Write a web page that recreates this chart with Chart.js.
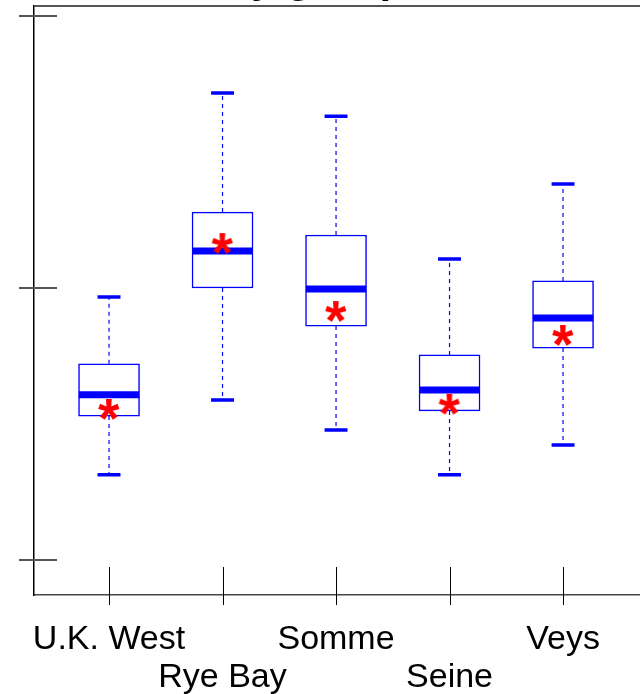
<!DOCTYPE html>
<html>
<head>
<meta charset="utf-8">
<script src="https://cdn.jsdelivr.net/npm/chart.js@4.4.1/dist/chart.umd.min.js"></script>
<style>
  html, body { margin: 0; padding: 0; background: #ffffff; }
  #wrap { width: 640px; height: 694px; }
</style>
</head>
<body>
<div id="wrap"><canvas id="chart" width="640" height="694"></canvas></div>
<script>
// Site summaries: whisker ends, quartiles, medians and means
const categories  = ['U.K. West', 'Rye Bay', 'Somme', 'Seine', 'Veys'];
const whiskerLow  = [23.13, 25.88, 24.78, 23.13, 24.23];
const quartile1   = [25.29, 30.00, 28.60, 25.48, 27.79];
const medians     = [26.07, 31.36, 29.96, 26.25, 28.90];
const quartile3   = [27.21, 32.79, 31.95, 27.54, 30.26];
const whiskerHigh = [29.67, 37.17, 36.32, 31.07, 33.82];
const means       = [25.55, 31.65, 29.15, 25.74, 28.27];
const yTickValues = [20, 30, 40];
const titleText   = 'Condition by group';

const BLUE = '#0000ff';
const RED = '#ff0000';
const BOX_HALF = 0.266;   // half box width, in category units
const CAP_HALF = 0.101;   // half whisker-cap width
const FONT = '"Liberation Sans", Arial, Helvetica, sans-serif';

const positions = categories.map((_, i) => i + 1);

// Build gap-separated segment lists for line datasets
function segments(make) {
  const out = [];
  positions.forEach((p, i) => {
    make(p, i).forEach(seg => {
      out.push(seg[0], seg[1], { x: p, y: null });
    });
  });
  return out;
}

const whiskerData = segments((p, i) => [
  [{ x: p, y: quartile3[i] }, { x: p, y: whiskerHigh[i] }],
  [{ x: p, y: quartile1[i] }, { x: p, y: whiskerLow[i] }]
]);
const capData = segments((p, i) => [
  [{ x: p - CAP_HALF, y: whiskerHigh[i] }, { x: p + CAP_HALF, y: whiskerHigh[i] }],
  [{ x: p - CAP_HALF, y: whiskerLow[i] }, { x: p + CAP_HALF, y: whiskerLow[i] }]
]);
const medianData = segments((p, i) => [
  [{ x: p - BOX_HALF, y: medians[i] }, { x: p + BOX_HALF, y: medians[i] }]
]);
const boxData = positions.map((p, i) => ({ x: p, y: [quartile1[i], quartile3[i]] }));
const meanData = positions.map((p, i) => ({ x: p, y: means[i] }));

// Red asterisk used as the mean marker
function asteriskImage() {
  const c = document.createElement('canvas');
  c.width = 32; c.height = 32;
  const g = c.getContext('2d');
  let size = 40;
  g.font = 'bold ' + size + 'px ' + FONT;
  let m = g.measureText('*');
  const w = m.actualBoundingBoxLeft + m.actualBoundingBoxRight;
  size = size * 22 / w;
  g.font = 'bold ' + size + 'px ' + FONT;
  m = g.measureText('*');
  const bw = m.actualBoundingBoxLeft + m.actualBoundingBoxRight;
  const bh = m.actualBoundingBoxAscent + m.actualBoundingBoxDescent;
  g.fillStyle = RED;
  g.textBaseline = 'alphabetic';
  g.textAlign = 'left';
  const x = 16 - bw / 2 + m.actualBoundingBoxLeft;
  const y = 16 - bh / 2 + m.actualBoundingBoxAscent;
  g.fillText('*', x, y);
  return c;
}

// Frame, crossing tick marks and the (partly clipped) title
const framePlugin = {
  id: 'frame',
  afterDraw(chart) {
    const ctx = chart.ctx;
    const area = chart.chartArea;
    const xs = chart.scales.x;
    const ys = chart.scales.y;
    ctx.save();
    // top edge of the plot frame
    ctx.strokeStyle = '#555';
    ctx.lineWidth = 2;
    ctx.beginPath();
    ctx.moveTo(area.left, area.top);
    ctx.lineTo(chart.width, area.top);
    ctx.stroke();
    // y tick marks crossing the left axis
    ctx.strokeStyle = '#555';
    ctx.lineWidth = 2;
    yTickValues.forEach(v => {
      const py = Math.round(ys.getPixelForValue(v));
      ctx.beginPath();
      ctx.moveTo(area.left - 15, py);
      ctx.lineTo(area.left + 23, py);
      ctx.stroke();
    });
    // x tick marks crossing the bottom axis
    ctx.strokeStyle = '#000';
    ctx.lineWidth = 1;
    positions.forEach(p => {
      const px = Math.round(xs.getPixelForValue(p)) + 0.5;
      ctx.beginPath();
      ctx.moveTo(px, area.bottom - 28);
      ctx.lineTo(px, area.bottom + 10);
      ctx.stroke();
    });
    // title above the frame
    ctx.fillStyle = '#000';
    ctx.font = 'bold 42px ' + FONT;
    ctx.textBaseline = 'alphabetic';
    ctx.textAlign = 'left';
    const gIdx = titleText.lastIndexOf('g');
    const before = ctx.measureText(titleText.slice(0, gIdx)).width;
    const gw = ctx.measureText('g').width;
    ctx.fillText(titleText, 299 - before - gw / 2, -8);
    ctx.restore();
  }
};

const ctx = document.getElementById('chart').getContext('2d');
new Chart(ctx, {
  type: 'scatter',
  data: {
    datasets: [
      {
        type: 'bar',
        label: 'box',
        data: boxData,
        backgroundColor: '#ffffff',
        borderColor: BLUE,
        borderWidth: 1.5,
        borderSkipped: false,
        barThickness: 61,
        order: 5
      },
      {
        label: 'whiskers',
        data: whiskerData,
        showLine: true,
        borderColor: BLUE,
        borderWidth: 1.2,
        borderDash: [4, 4],
        pointRadius: 0,
        spanGaps: false,
        order: 4
      },
      {
        label: 'caps',
        data: capData,
        showLine: true,
        borderColor: BLUE,
        borderWidth: 3.5,
        borderCapStyle: 'butt',
        pointRadius: 0,
        spanGaps: false,
        order: 3
      },
      {
        label: 'median',
        data: medianData,
        showLine: true,
        borderColor: BLUE,
        borderWidth: 7,
        borderCapStyle: 'butt',
        pointRadius: 0,
        spanGaps: false,
        order: 2
      },
      {
        label: 'mean',
        data: meanData,
        showLine: false,
        pointStyle: asteriskImage(),
        pointRadius: 11,
        order: 1
      }
    ]
  },
  options: {
    responsive: false,
    animation: false,
    events: [],
    layout: { autoPadding: false, padding: { left: 34, top: 6, right: 0, bottom: 0 } },
    plugins: {
      legend: { display: false },
      tooltip: { enabled: false },
      title: { display: false }
    },
    scales: {
      x: {
        type: 'linear',
        offset: false,
        min: 0.339,
        max: 5.678,
        grid: { display: false, drawTicks: false, offset: false },
        border: { display: true, color: '#444', width: 1.5 },
        afterBuildTicks: s => { s.ticks = positions.map(v => ({ value: v })); },
        afterFit: s => { s.height = 99; s.paddingLeft = 0; s.paddingRight = 0; },
        ticks: {
          autoSkip: false,
          maxRotation: 0,
          minRotation: 0,
          padding: 26,
          color: '#000',
          font: { family: FONT, size: 34, lineHeight: 1.12 },
          callback: (value, index) => {
            const label = categories[index];
            return index % 2 ? ['', label] : label;
          }
        }
      },
      y: {
        type: 'linear',
        min: 18.71,
        max: 40.37,
        grid: { display: false, drawTicks: false },
        border: { display: true, color: '#000', width: 1.5 },
        ticks: { display: false },
        afterFit: s => { s.width = 0; s.paddingTop = 0; s.paddingBottom = 0; }
      }
    }
  },
  plugins: [framePlugin]
});
</script>
</body>
</html>
